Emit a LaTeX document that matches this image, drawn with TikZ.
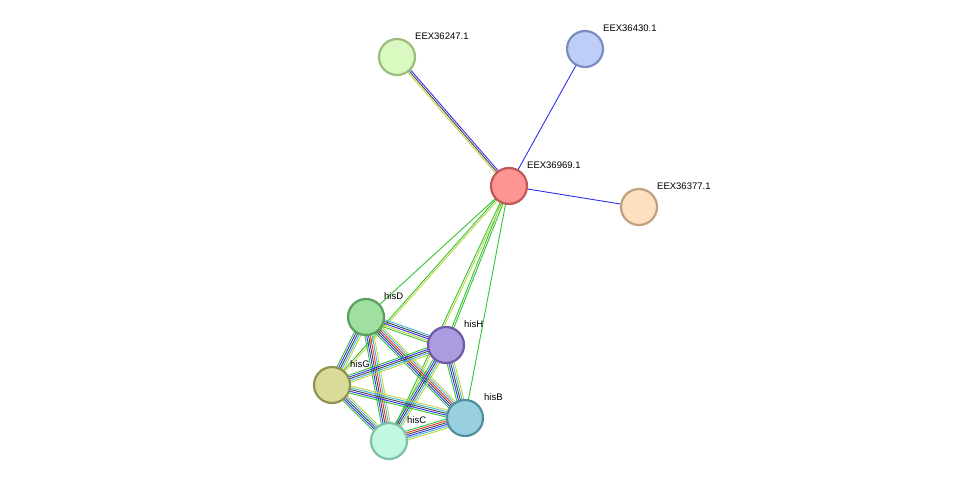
\documentclass[tikz,border=0pt]{standalone}
\usepackage{fontspec}
\setmainfont{Liberation Sans}
\usetikzlibrary{calc,backgrounds}
\definecolor{eg}{HTML}{33C433}
\definecolor{ey}{HTML}{C2D43A}
\definecolor{eb}{HTML}{2F2FF0}
\definecolor{ek}{HTML}{444444}
\definecolor{ec}{HTML}{3AB6E0}
\definecolor{er}{HTML}{F02F2F}
\newcommand\sedge[4]{%
  \foreach \c [count=\i] in {#3} {%
    \pgfmathsetmacro\oo{(\i-(#4+1)/2)*1.8}%
    \draw[\c, line width=0.9pt] ($(#1)!\oo pt!90:(#2)$) -- ($(#2)!\oo pt!-90:(#1)$);
  }}
\begin{document}
\begin{tikzpicture}[x=1pt,y=-1pt,
  prot/.style={circle, minimum size=36pt, inner sep=0pt, line width=2.2pt},
  lab/.style={anchor=west, font=\fontsize{9.5}{11}\selectfont, inner sep=0pt}]
\useasboundingbox (0,0) rectangle (975,487);
\node[prot, fill={rgb,255:red,217;green,249;blue,192}, draw={rgb,255:red,155;green,187;blue,128}] (a) at (397,57) {};
\node[prot, fill={rgb,255:red,191;green,205;blue,249}, draw={rgb,255:red,122;green,140;blue,192}] (b) at (585,49) {};
\node[prot, fill={rgb,255:red,253;green,149;blue,149}, draw={rgb,255:red,192;green,88;blue,88}] (c) at (509,186) {};
\node[prot, fill={rgb,255:red,253;green,224;blue,192}, draw={rgb,255:red,192;green,160;blue,128}] (d) at (639,207) {};
\node[prot, fill={rgb,255:red,159;green,224;blue,160}, draw={rgb,255:red,90;green,158;blue,96}] (hD) at (366,317) {};
\node[prot, fill={rgb,255:red,173;green,155;blue,224}, draw={rgb,255:red,109;green,90;blue,168}] (hH) at (446,345) {};
\node[prot, fill={rgb,255:red,216;green,220;blue,152}, draw={rgb,255:red,143;green,147;blue,80}] (hG) at (332,385) {};
\node[prot, fill={rgb,255:red,152;green,208;blue,224}, draw={rgb,255:red,80;green,144;blue,158}] (hB) at (465,418) {};
\node[prot, fill={rgb,255:red,192;green,248;blue,224}, draw={rgb,255:red,128;green,192;blue,168}] (hC) at (389,441) {};
\begin{scope}[on background layer]
\sedge{a}{c}{ey,ek,eb}{3}
\sedge{c}{b}{eb}{1}
\sedge{c}{d}{eb}{1}
\sedge{c}{hD}{eg}{1}
\sedge{c}{hG}{eg,ey}{2}
\sedge{c}{hH}{eg,eg}{2}
\sedge{c}{hC}{eg,ey}{2}
\sedge{c}{hB}{eg}{1}
\sedge{hD}{hH}{eg,ey,eb,ek,ec}{5}
\sedge{hD}{hG}{eg,eb,ek,ec,ey}{5}
\sedge{hD}{hB}{eg,eb,ek,er,ec,ey}{6}
\sedge{hD}{hC}{eg,eb,ek,er,ec,ey}{6}
\sedge{hH}{hG}{eg,eb,ek,ec,ey}{5}
\sedge{hH}{hB}{eg,eb,ek,ec,ey}{5}
\sedge{hH}{hC}{eg,eb,ek,ec,ey}{5}
\sedge{hG}{hB}{eg,eb,ek,ec,ey}{5}
\sedge{hG}{hC}{eg,eb,ek,ec,ey}{5}
\sedge{hB}{hC}{eg,er,ek,eb,ec,ey}{6}
\end{scope}
\node[lab] (la) at (415,36) {EEX36247.1};
\node[lab] (lb) at (603,28) {EEX36430.1};
\node[lab] (lc) at (527,165) {EEX36969.1};
\node[lab] (ld) at (657,186) {EEX36377.1};
\node[lab] (lD) at (384,296) {hisD};
\node[lab] (lH) at (464,324) {hisH};
\node[lab] (lG) at (350,364) {hisG};
\node[lab] (lB) at (484,397) {hisB};
\node[lab] (lC) at (407,420) {hisC};
\end{tikzpicture}
\end{document}
